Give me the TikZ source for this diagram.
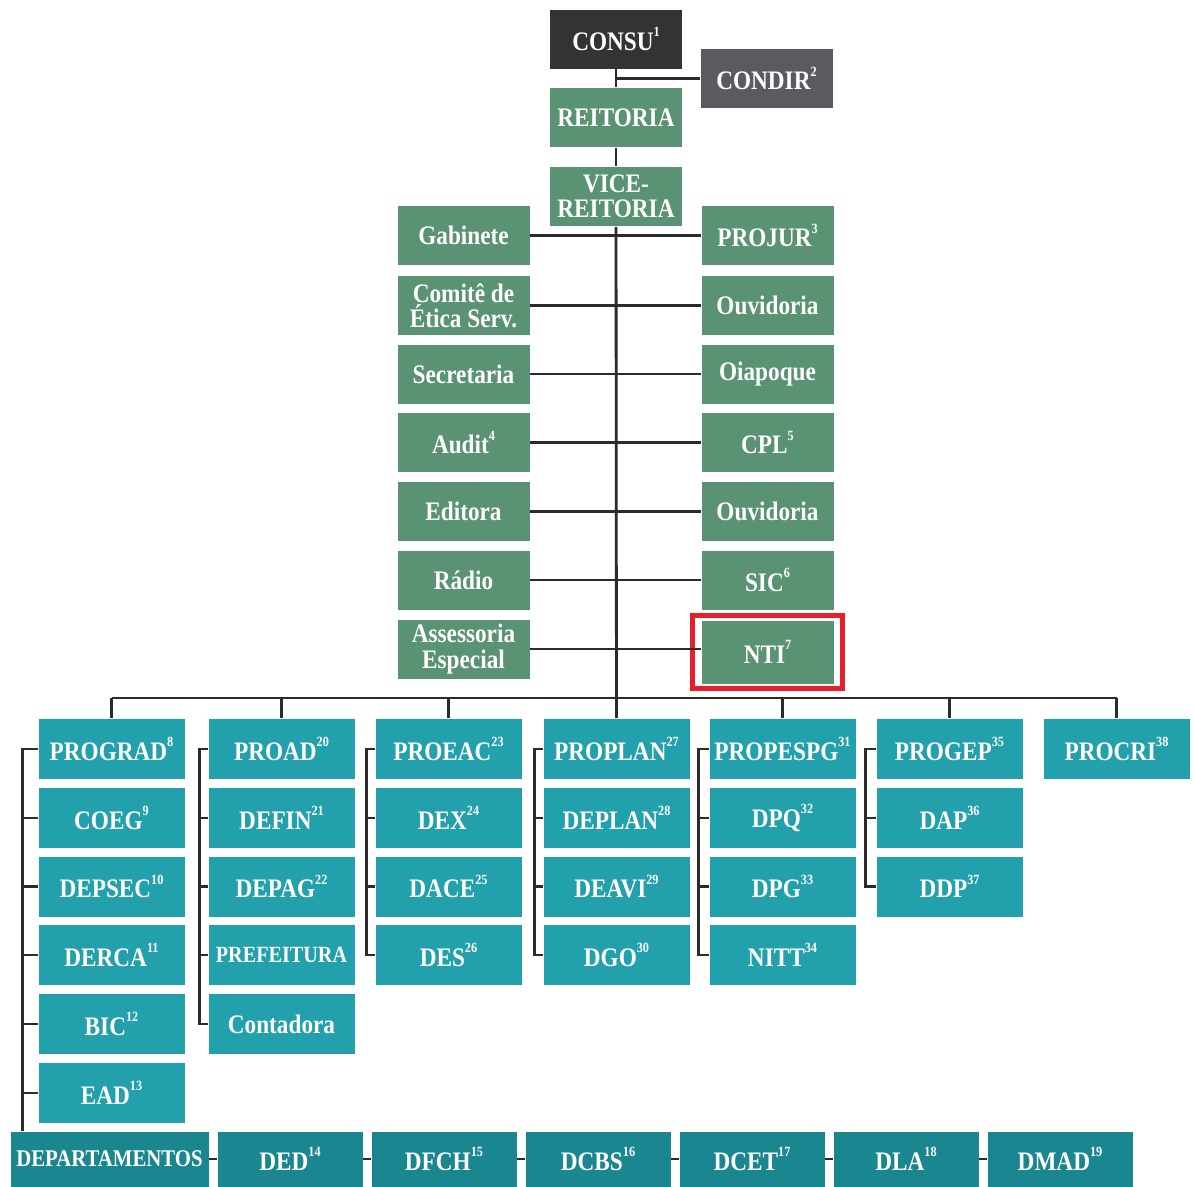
\documentclass[tikz,border=0pt]{standalone}
\usepackage{fontspec}
\setmainfont{Liberation Serif}[FakeStretch=0.87]
\usetikzlibrary{fit}
\definecolor{unigreen}{HTML}{5A9373}
\definecolor{uniteal}{HTML}{22A0AC}
\definecolor{unideep}{HTML}{1A868F}
\definecolor{uniblack}{HTML}{333333}
\definecolor{unigray}{HTML}{5B5B5F}
\definecolor{uniline}{HTML}{2B2B2B}
\definecolor{unired}{HTML}{E81E2A}
\newcommand{\upnum}[1]{\raisebox{0.5em}{\fontsize{10}{10}\selectfont #1}}

\tikzset{
  unit/.style={draw=white, line width=0.6pt, text=white, align=center, inner sep=0pt,
    font=\bfseries\fontsize{19}{18}\selectfont, minimum width=3.325cm, minimum height=1.5cm},
  greenunit/.style={unit, fill=unigreen},
  prounit/.style={unit, fill=uniteal, minimum width=3.675cm, minimum height=1.525cm},
  depunit/.style={unit, fill=unideep, minimum width=3.65cm, minimum height=1.4cm},
  link/.style={uniline, line width=2pt}
}

\begin{document}
\begin{tikzpicture}[x=0.025cm, y=-0.025cm]
\useasboundingbox (0,0) rectangle (1195,1187);

% top of the chart
\node[unit, fill=uniblack] (consu) at (616,39) {CONSU\upnum{1}};
\node[unit, fill=unigray] (condir) at (766.5,78.5) {CONDIR\upnum{2}};
\node[greenunit] (reitoria) at (616,117.5) {REITORIA};
\node[greenunit] (vice) at (616,196.5) {VICE-\\REITORIA};

\node[greenunit] (gabinete) at (463.5,235.5) {Gabinete};
\node[greenunit] (comite) at (463.5,305.5) {Comitê de\\Ética Serv.};
\node[greenunit] (secretaria) at (463.5,374) {Secretaria};
\node[greenunit] (audit) at (463.5,442.5) {Audit\upnum{4}};
\node[greenunit] (editora) at (463.5,511.5) {Editora};
\node[greenunit] (radio) at (463.5,580) {Rádio};
\node[greenunit] (assessoria) at (463.5,649) {Assessoria\\Especial};

\node[greenunit] (projur) at (767.5,235.5) {PROJUR\upnum{3}};
\node[greenunit] (ouvidoria) at (767.5,305.5) {Ouvidoria};
\node[greenunit] (oiapoque) at (767.5,374) {Oiapoque};
\node[greenunit] (cpl) at (767.5,442.5) {CPL\upnum{5}};
\node[greenunit] (ouvidoriab) at (767.5,511.5) {Ouvidoria};
\node[greenunit] (sic) at (767.5,580) {SIC\upnum{6}};
\node[greenunit, minimum height=1.6cm] (nti) at (767.5,652) {NTI\upnum{7}};
\node[draw=unired, line width=3.5pt, inner xsep=0.21cm, inner ysep=0.11cm, fit=(nti)] (ntimark) {};

\coordinate (hub) at (616,698);

% pro-reitorias
\node[prounit] (prograd) at (111.5,749) {PROGRAD\upnum{8}};
\node[prounit] (coeg) at (111.5,818) {COEG\upnum{9}};
\node[prounit] (depsec) at (111.5,886.5) {DEPSEC\upnum{10}};
\node[prounit] (derca) at (111.5,955) {DERCA\upnum{11}};
\node[prounit] (bic) at (111.5,1024) {BIC\upnum{12}};
\node[prounit] (ead) at (111.5,1093) {EAD\upnum{13}};

\node[prounit] (proad) at (281.5,749) {PROAD\upnum{20}};
\node[prounit] (defin) at (281.5,818) {DEFIN\upnum{21}};
\node[prounit] (depag) at (281.5,886.5) {DEPAG\upnum{22}};
\node[prounit, font=\bfseries\fontsize{16.5}{18}\selectfont] (prefeitura) at (281.5,955) {PREFEITURA};
\node[prounit] (contadora) at (281.5,1024) {Contadora};

\node[prounit] (proeac) at (448.5,749) {PROEAC\upnum{23}};
\node[prounit] (dex) at (448.5,818) {DEX\upnum{24}};
\node[prounit] (dace) at (448.5,886.5) {DACE\upnum{25}};
\node[prounit] (des) at (448.5,955) {DES\upnum{26}};

\node[prounit] (proplan) at (616.5,749) {PROPLAN\upnum{27}};
\node[prounit] (deplan) at (616.5,818) {DEPLAN\upnum{28}};
\node[prounit] (deavi) at (616.5,886.5) {DEAVI\upnum{29}};
\node[prounit] (dgo) at (616.5,955) {DGO\upnum{30}};

\node[prounit] (propespg) at (782.5,749) {PROPESPG\upnum{31}};
\node[prounit] (dpq) at (782.5,818) {DPQ\upnum{32}};
\node[prounit] (dpg) at (782.5,886.5) {DPG\upnum{33}};
\node[prounit] (nitt) at (782.5,955) {NITT\upnum{34}};

\node[prounit] (progep) at (949.5,749) {PROGEP\upnum{35}};
\node[prounit] (dap) at (949.5,818) {DAP\upnum{36}};
\node[prounit] (ddp) at (949.5,886.5) {DDP\upnum{37}};

\node[prounit] (procri) at (1116.5,749) {PROCRI\upnum{38}};

% departamentos
\node[depunit, minimum width=4.975cm, font=\bfseries\fontsize{17}{18}\selectfont] (departamentos) at (109.5,1159) {DEPARTAMENTOS};
\node[depunit] (ded) at (290,1159) {DED\upnum{14}};
\node[depunit] (dfch) at (444,1159) {DFCH\upnum{15}};
\node[depunit] (dcbs) at (598,1159) {DCBS\upnum{16}};
\node[depunit] (dcet) at (752,1159) {DCET\upnum{17}};
\node[depunit] (dla) at (906,1159) {DLA\upnum{18}};
\node[depunit] (dmad) at (1060,1159) {DMAD\upnum{19}};

% connectors
\draw[link] (consu) -- (reitoria);
\draw[link] (condir.west) -- (condir.west -| consu.south);
\draw[link] (reitoria) -- (vice);
\draw[link] (vice) -- (proplan);

\draw[link] (gabinete) -- (projur);
\draw[link] (comite) -- (ouvidoria);
\draw[link] (secretaria) -- (oiapoque);
\draw[link] (audit) -- (cpl);
\draw[link] (editora) -- (ouvidoriab);
\draw[link] (radio) -- (sic);
\draw[link] (assessoria) -- (assessoria -| nti.west);

\draw[link] (prograd.north |- hub) -- (procri.north |- hub);
\draw[link] (prograd) -- (prograd |- hub);
\draw[link] (proad) -- (proad |- hub);
\draw[link] (proeac) -- (proeac |- hub);
\draw[link] (propespg) -- (propespg |- hub);
\draw[link] (progep) -- (progep |- hub);
\draw[link] (procri) -- (procri |- hub);

\draw[link] (prograd.west) -- ++(-15,0) coordinate (gradrail) -- (gradrail |- departamentos.north);
\draw[link] (coeg.west) -- (coeg.west -| gradrail);
\draw[link] (depsec.west) -- (depsec.west -| gradrail);
\draw[link] (derca.west) -- (derca.west -| gradrail);
\draw[link] (bic.west) -- (bic.west -| gradrail);
\draw[link] (ead.west) -- (ead.west -| gradrail);

\draw[link] (proad.west) -- ++(-8,0) coordinate (adrail) |- (contadora.west);
\draw[link] (defin.west) -- (defin.west -| adrail);
\draw[link] (depag.west) -- (depag.west -| adrail);
\draw[link] (prefeitura.west) -- (prefeitura.west -| adrail);

\draw[link] (proeac.west) -- ++(-8,0) coordinate (eacrail) |- (des.west);
\draw[link] (dex.west) -- (dex.west -| eacrail);
\draw[link] (dace.west) -- (dace.west -| eacrail);

\draw[link] (proplan.west) -- ++(-8,0) coordinate (planrail) |- (dgo.west);
\draw[link] (deplan.west) -- (deplan.west -| planrail);
\draw[link] (deavi.west) -- (deavi.west -| planrail);

\draw[link] (propespg.west) -- ++(-10,0) coordinate (pgrail) |- (nitt.west);
\draw[link] (dpq.west) -- (dpq.west -| pgrail);
\draw[link] (dpg.west) -- (dpg.west -| pgrail);

\draw[link] (progep.west) -- ++(-10,0) coordinate (geprail) |- (ddp.west);
\draw[link] (dap.west) -- (dap.west -| geprail);

\draw[link] (departamentos) -- (ded) -- (dfch) -- (dcbs) -- (dcet) -- (dla) -- (dmad);
\end{tikzpicture}
\end{document}
